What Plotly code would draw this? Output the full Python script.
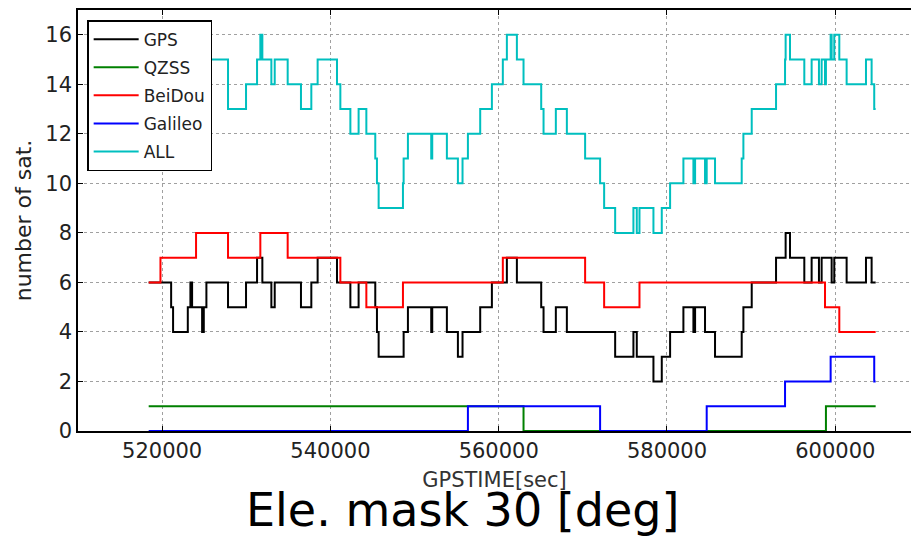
import plotly.graph_objects as go

# Number of visible satellites per constellation over one day (GPS time of week, seconds)
gps_t = [518400, 521070, 521300, 523050, 523360, 523560, 524750, 524950, 525260, 527830,
         529970, 531280, 531910, 532980, 533380, 536500, 537730, 538480, 540780, 542370,
         543350, 545330, 545530, 545730, 548700, 549210, 551980, 552100, 553840, 555150,
         555700, 557800, 559190, 560970, 562160, 565050, 565330, 566790, 568100, 573840,
         576010, 576410, 578390, 579380, 580370, 581950, 583140, 583340, 584520, 585710,
         588880, 589080, 590070, 592960, 594100, 594620, 596320, 597190, 598060, 598380,
         599570, 599880, 601350, 603650, 604320, 604800]
gps_n = [6, 5, 4, 5, 6, 5, 4, 5, 6, 5,
         6, 7, 6, 5, 6, 5, 6, 7, 6, 5,
         6, 5, 4, 3, 4, 5, 4, 5, 4, 3,
         4, 5, 6, 7, 6, 5, 4, 5, 4, 3,
         4, 3, 2, 3, 4, 5, 4, 5, 4, 3,
         4, 5, 6, 7, 8, 7, 6, 7, 6, 7,
         6, 7, 6, 7, 6, 6]

qzss_t = [518400, 562950, 598890, 604800]
qzss_n = [1, 0, 1, 1]

bds_t = [518400, 519800, 524030, 527830, 531670, 534920, 541180, 544270, 548620, 560490,
         570270, 572530, 576730, 598780, 600480, 604800]
bds_n = [6, 7, 8, 7, 8, 7, 6, 5, 6, 7, 6, 5, 6, 5, 4, 4]

gal_t = [518400, 556340, 572050, 584720, 594030, 599450, 604630, 604800]
gal_n = [0, 1, 0, 1, 2, 3, 2, 2]

all_t = [518400, 519800, 521070, 521300, 523050, 523360, 523560, 524030, 524750, 524950,
         525260, 527830, 529970, 531280, 531670, 531910, 532980, 533380, 534920, 536500,
         537730, 538480, 540780, 541180, 542370, 543350, 544270, 545330, 545530, 545730,
         548620, 548700, 549210, 551980, 552100, 553840, 555150, 555700, 556340, 557800,
         559190, 560490, 560970, 562160, 562950, 565050, 565330, 566790, 568100, 570270,
         572050, 572530, 573840, 576010, 576410, 576730, 578390, 579380, 580370, 581950,
         583140, 583340, 584520, 584720, 585710, 588880, 589080, 590070, 592960, 594030,
         594100, 594620, 596320, 597190, 598060, 598380, 598780, 598890, 599450, 599570,
         599880, 600480, 601350, 603650, 604320, 604630, 604800]
all_n = [13, 14, 13, 12, 13, 14, 13, 14, 13, 14,
         15, 13, 14, 15, 16, 15, 14, 15, 14, 13,
         14, 15, 14, 13, 12, 13, 12, 11, 10, 9,
         10, 11, 12, 11, 12, 11, 10, 11, 12, 13,
         14, 15, 16, 15, 14, 13, 12, 13, 12, 11,
         10, 9, 8, 9, 8, 9, 8, 9, 10, 11,
         10, 11, 10, 11, 10, 11, 12, 13, 14, 15,
         16, 15, 14, 15, 14, 15, 14, 15, 16, 15,
         16, 15, 14, 15, 14, 13, 13]

x_ticks = [520000, 540000, 560000, 580000, 600000]
y_ticks = [0, 2, 4, 6, 8, 10, 12, 14, 16]

series = [
    ("GPS", gps_t, gps_n, "#000000"),
    ("QZSS", qzss_t, qzss_n, "#008000"),
    ("BeiDou", bds_t, bds_n, "#ff0000"),
    ("Galileo", gal_t, gal_n, "#0000ff"),
    ("ALL", all_t, all_n, "#00bfbf"),
]

FONT = "DejaVu Sans"

fig = go.Figure()
for name, t, n, color in series:
    fig.add_trace(go.Scatter(
        x=t, y=n, name=name, mode="lines", legendgroup=name,
        line=dict(color=color, width=2, shape="hv"),
    ))

axis_common = dict(
    showline=True, linecolor="#000000", linewidth=1.5,
    ticks="inside", ticklen=5, tickcolor="#000000", tickwidth=1,
    showgrid=True, gridcolor="#a0a0a0", gridwidth=1, griddash="3px,3px",
    zeroline=False,
    tickfont=dict(family=FONT, size=21, color="#222222"),
)

fig.update_layout(
    width=911, height=536,
    margin=dict(l=78, r=0, t=10, b=105),
    paper_bgcolor="white", plot_bgcolor="white",
    font=dict(family=FONT, color="#222222"),
    xaxis=dict(
        range=[510000, 609000], tickvals=x_ticks,
        ticktext=[str(v) for v in x_ticks],
        mirror="allticks",
        title=dict(text="GPSTIME[sec]", font=dict(family=FONT, size=21, color="#333333"), standoff=10),
        **axis_common,
    ),
    yaxis=dict(
        range=[0, 17], tickvals=y_ticks,
        mirror=False,
        title=dict(text="number of sat.", font=dict(family=FONT, size=22, color="#222222"), standoff=8),
        **axis_common,
    ),
    legend=dict(
        x=0.011, y=0.976, xanchor="left", yanchor="top",
        bgcolor="white", bordercolor="#000000", borderwidth=1.5,
        font=dict(family=FONT, size=17, color="#222222"),
        tracegroupgap=3, itemwidth=45,
    ),
    showlegend=True,
    annotations=[dict(
        text="Ele. mask 30 [deg]", xref="paper", yref="paper",
        x=0.462, y=-0.188, xanchor="center", yanchor="middle",
        showarrow=False, font=dict(family=FONT, size=46, color="#000000"),
    )],
)

fig.write_html("out.html")
